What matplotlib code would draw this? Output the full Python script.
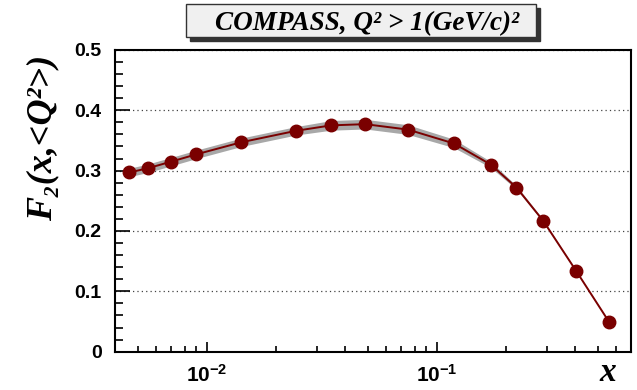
import matplotlib
matplotlib.use("Agg")
import matplotlib.pyplot as plt
from matplotlib.patches import Rectangle
from matplotlib.ticker import LogLocator, MultipleLocator
import numpy as np

# F2 vs x
x_vals = [0.00460, 0.00554, 0.00700, 0.00899, 0.0141, 0.0244, 0.0347, 0.0488,
          0.0749, 0.1187, 0.1717, 0.222, 0.290, 0.405, 0.562]
f2_vals = [0.297, 0.304, 0.315, 0.327, 0.347, 0.366, 0.375, 0.377,
           0.368, 0.345, 0.310, 0.272, 0.217, 0.133, 0.049]
f2_err = [0.007, 0.007, 0.007, 0.007, 0.007, 0.007, 0.008, 0.008,
          0.008, 0.007, 0.005, 0.003, 0.002, 0.001, 0.001]

y_ticks = [0, 0.1, 0.2, 0.3, 0.4, 0.5]
y_ticklabels = ['0', '0.1', '0.2', '0.3', '0.4', '0.5']
x_ticks = [0.01, 0.1]
x_ticklabels = [r'$10^{-2}$', r'$10^{-1}$']

title_text = "COMPASS, Q² > 1(GeV/c)²"
ylabel_text = "F₂(x,<Q²>)"
xlabel_text = "x"

plt.rcParams['mathtext.fontset'] = 'custom'
plt.rcParams['mathtext.rm'] = 'Liberation Sans:bold'
plt.rcParams['mathtext.bf'] = 'Liberation Sans:bold'
plt.rcParams['mathtext.default'] = 'rm'

serif = ['Liberation Serif', 'DejaVu Serif']
dark_red = '#7a0000'

fig = plt.figure(figsize=(6.37, 3.9), dpi=100)
ax = fig.add_axes([0.1813, 0.0982, 0.8088, 0.7738])

x = np.array(x_vals)
y = np.array(f2_vals)
e = np.array(f2_err)

ax.fill_between(x, y - e, y + e, color='#a8a8a8', lw=0, zorder=2)
ax.plot(x, y, '-', color=dark_red, lw=1.4, zorder=3)
ax.plot(x, y, 'o', color=dark_red, ms=9, mec=dark_red, zorder=4)

ax.set_xscale('log')
ax.set_xlim(0.004, 0.697)
ax.set_ylim(0, 0.5)

ax.set_xticks(x_ticks, x_ticklabels)
ax.xaxis.set_minor_locator(LogLocator(base=10, subs=np.arange(2, 10), numticks=20))
ax.set_yticks(y_ticks, y_ticklabels, family='Liberation Sans', weight='bold')
ax.yaxis.set_minor_locator(MultipleLocator(0.02))

ax.tick_params(axis='both', which='both', direction='in', width=1.2,
               top=False, right=False)
ax.tick_params(axis='y', which='major', length=11, pad=10, labelsize=14)
ax.tick_params(axis='y', which='minor', length=6)
ax.tick_params(axis='x', which='major', length=7, pad=9, labelsize=15)
ax.tick_params(axis='x', which='minor', length=4)

for sp in ax.spines.values():
    sp.set_linewidth(1.5)

ax.grid(axis='y', which='major', color='#444444', linestyle=(0, (1, 2.5)), lw=0.9)
ax.set_axisbelow(True)

# ROOT-style title box with shadow
bx0, by0, bw, bh = 186 / 637, 1 - 37 / 390, 350 / 637, 33 / 390
fig.patches.append(Rectangle((bx0 + 4 / 637, by0 - 4 / 390), bw, bh,
                             transform=fig.transFigure, color='#333333', zorder=1))
fig.patches.append(Rectangle((bx0, by0), bw, bh, transform=fig.transFigure,
                             facecolor='#f0f0f0', edgecolor='#333333', lw=1, zorder=2))
fig.text(0.577, 1 - 30 / 390, title_text, ha='center', va='baseline',
         family=serif, style='italic', weight='bold', fontsize=19.5)

fig.text(0.068, 0.646, ylabel_text, rotation=90, ha='center', va='center',
         family=serif, style='italic', weight='bold', fontsize=26)
fig.text(0.954, 0.004, xlabel_text, ha='center', va='bottom',
         family=serif, style='italic', weight='bold', fontsize=24)

fig.savefig('out.png', dpi=100)
